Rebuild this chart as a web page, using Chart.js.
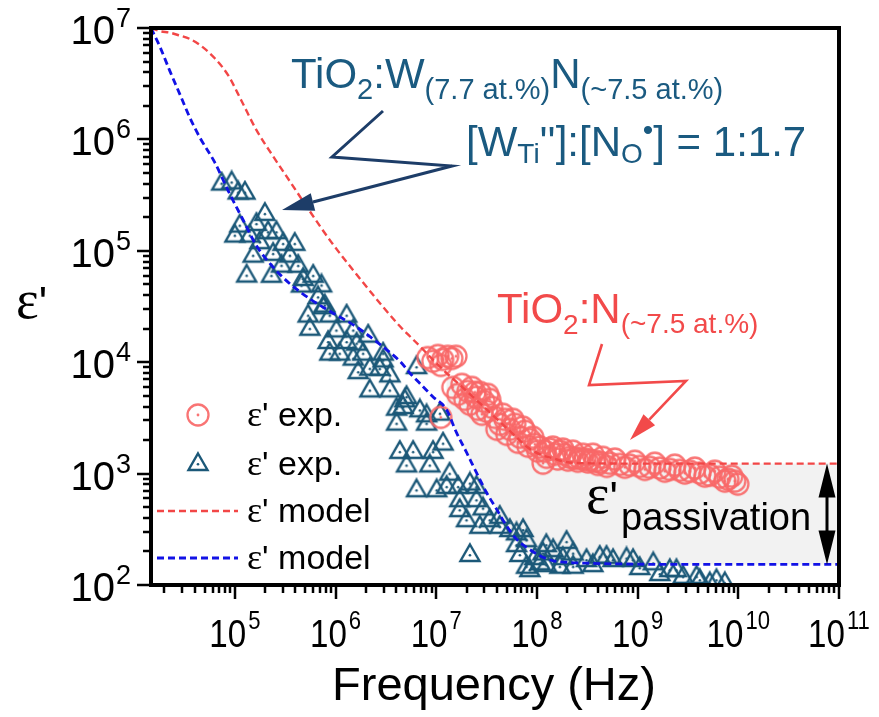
<!DOCTYPE html>
<html><head><meta charset="utf-8">
<script src="https://cdn.jsdelivr.net/npm/chart.js@4.4.1/dist/chart.umd.min.js"></script>
<style>html,body{margin:0;padding:0;background:#fff;}#wrap{width:879px;height:717px;}</style>
</head><body><div id="wrap"><canvas id="c" width="879" height="717"></canvas></div>
<script>
// ---------- data ----------
const xTickExps = [5, 6, 7, 8, 9, 10, 11];
const yTickExps = [2, 3, 4, 5, 6, 7];
const xRange = [1.47e4, 1e11];
const yRange = [1e2, 1e7];

const modelFreq = [1.47e4, 1.80e4, 2.26e4, 2.84e4, 3.57e4, 4.49e4, 6.32e4, 8.57e4, 1.17e5, 1.64e5, 2.40e5, 3.52e5, 5.56e5, 9.12e5, 1.62e6, 2.97e6, 4.36e6, 5.47e6, 7.41e6, 9.31e6, 1.26e7, 1.59e7, 2.0e7, 2.51e7, 3.16e7, 3.97e7, 4.99e7, 6.27e7, 7.89e7, 1.07e8, 1.45e8, 1.97e8, 3.16e8, 8.95e8, 3.16e9, 1e10, 1e11];
const redModel = [1.0e7, 9.37e6, 9.08e6, 8.55e6, 7.98e6, 7.05e6, 5.35e6, 3.77e6, 2.20e6, 1.21e6, 7.05e5, 4.20e5, 2.26e5, 1.19e5, 6.12e4, 3.13e4, 2.10e4, 1.71e4, 1.30e4, 1.05e4, 8.04e3, 6.65e3, 5.51e3, 4.56e3, 3.78e3, 3.11e3, 2.57e3, 2.12e3, 1.75e3, 1.49e3, 1.37e3, 1.27e3, 1.24e3, 1.23e3, 1.23e3, 1.23e3, 1.23e3];
const blueModel = [1.0e7, 6.81e6, 4.12e6, 2.55e6, 1.57e6, 1.04e6, 6.21e5, 3.47e5, 2.0e5, 1.11e5, 7.13e4, 5.06e4, 3.71e4, 2.81e4, 2.07e4, 1.37e4, 1.02e4, 8.0e3, 6.03e3, 4.88e3, 3.78e3, 2.33e3, 1.55e3, 1.02e3, 676, 480, 340, 258, 218, 183, 165, 160, 157, 154, 153, 153, 153];
const fillStartFreq = 1.26e7;

const circleFreq = [8.26e6, 9.25e6, 1.04e7, 1.16e7, 1.30e7, 1.43e7, 1.57e7, 1.11e7, 1.11e7, 1.46e7, 1.64e7, 1.80e7, 1.92e7, 2.06e7, 2.26e7, 2.47e7, 2.71e7, 2.97e7, 3.25e7, 2.16e7, 2.59e7, 3.18e7, 3.56e7, 3.82e7, 4.28e7, 4.80e7, 5.38e7, 6.04e7, 6.77e7, 7.59e7, 8.50e7, 9.53e7, 1.07e8, 1.15e8, 1.20e8, 1.34e8, 1.51e8, 1.69e8, 1.89e8, 2.12e8, 2.38e8, 2.67e8, 2.99e8, 3.35e8, 3.76e8, 4.21e8, 5.30e8, 6.65e8, 8.37e8, 1.05e9, 1.32e9, 1.66e9, 2.09e9, 2.62e9, 3.30e9, 4.15e9, 5.21e9, 6.55e9, 7.87e9, 9.23e9,
  1.25e8, 1.44e8, 1.61e8, 1.81e8, 2.03e8, 2.27e8, 2.55e8, 2.86e8, 3.20e8, 3.59e8, 4.03e8, 4.51e8, 4.94e8, 5.94e8, 7.46e8, 9.38e8, 1.18e9, 1.48e9, 1.86e9, 2.34e9, 2.94e9, 3.70e9, 4.65e9, 5.85e9, 7.35e9, 8.61e9, 9.89e9,
  2.42e7, 2.84e7, 3.40e7, 4.00e7, 4.58e7, 5.02e7, 5.77e7, 6.46e7, 7.24e7, 8.12e7, 9.10e7, 1.02e8];
const circleEps = [1.10e4, 1.02e4, 1.15e4, 1.06e4, 1.13e4, 1.08e4, 1.13e4, 9.36e3, 3.20e3, 5.94e3, 5.14e3, 6.32e3, 4.64e3, 5.47e3, 5.94e3, 4.84e3, 5.36e3, 4.46e3, 5.14e3, 4.19e3, 3.78e3, 3.62e3, 3.94e3, 3.20e3, 2.77e3, 3.07e3, 2.50e3, 2.77e3, 2.12e3, 2.40e3, 2.03e3, 1.83e3, 1.73e3, 1.24e3, 1.59e3, 1.66e3, 1.49e3, 1.59e3, 1.49e3, 1.40e3, 1.37e3, 1.37e3, 1.35e3, 1.32e3, 1.29e3, 1.27e3, 1.24e3, 1.21e3, 1.19e3, 1.16e3, 1.14e3, 1.12e3, 1.09e3, 1.07e3, 1.05e3, 1.01e3, 968, 929, 891, 855,
  1.40e3, 1.73e3, 1.35e3, 1.66e3, 1.32e3, 1.59e3, 1.29e3, 1.49e3, 1.27e3, 1.49e3, 1.21e3, 1.40e3, 1.16e3, 1.35e3, 1.14e3, 1.29e3, 1.09e3, 1.24e3, 1.05e3, 1.19e3, 1.01e3, 1.12e3, 948, 1.05e3, 855, 948, 804,
  5.36e3, 3.41e3, 4.64e3, 2.50e3, 3.41e3, 2.25e3, 3.07e3, 1.91e3, 2.61e3, 1.76e3, 2.12e3, 1.59e3];

const triFreq = [7.4e4, 9.3e4, 1.08e5, 1.26e5, 1.99e5, 1.12e5, 1.0e5, 1.64e5, 2.14e5, 2.59e5, 1.41e5, 1.77e5, 3.02e5, 3.94e5, 1.52e5, 2.40e5, 3.52e5, 2.91e5, 4.26e5, 1.31e5, 2.31e5, 4.77e5, 6.0e5, 4.59e5, 7.26e5, 6.71e5, 7.53e5, 5.35e5, 8.77e5, 1.29e6, 5.56e5, 1.02e6, 1.50e6, 2.11e6, 8.45e5, 1.29e6, 1.62e6, 2.97e6, 8.77e5, 1.10e6, 1.88e6, 7.83e5, 1.50e6, 1.68e6, 2.19e6, 2.75e6, 2.97e6, 3.46e6, 2.19e6, 3.46e6, 5.07e6, 4.69e6, 4.04e6, 6.37e6, 6.87e6, 8.02e6, 4.04e6, 8.02e6, 4.35e6, 5.90e6, 5.07e6, 8.63e6, 9.31e6, 6.37e6, 1.01e7, 4.88e6, 1.09e7, 1.17e7, 1.36e7, 1.27e7, 1.65e7, 2.51e7, 1.71e7, 2.51e7, 1.71e7, 2.0e7, 2.92e7, 3.40e7, 4.28e7, 2.71e7, 4.28e7, 5.38e7, 6.27e7, 6.27e7, 7.89e7, 2.16e7, 7.89e7, 1.07e8, 1.15e8, 1.45e8, 1.97e8, 2.29e8, 1.69e8, 2.29e8, 3.11e8, 4.21e8, 5.71e8, 9.02e8, 1.43e9, 2.09e9, 2.83e9, 4.15e9, 6.07e9, 2.16e7, 7.29e7, 8.50e7, 1.24e8, 1.24e8, 4.91e8, 7.76e8, 2.43e9, 3.85e9, 6.77e7, 9.53e7, 1.81e8, 3.59e8, 1.05e9, 1.66e9, 5.21e9, 7.35e9];
const triEps = [4.1e5, 4.2e5, 3.41e5, 3.4e5, 2.19e5, 1.72e5, 1.40e5, 1.78e5, 1.50e5, 1.50e5, 1.40e5, 1.22e5, 1.18e5, 1.18e5, 9.25e4, 9.6e4, 9.25e4, 7.52e4, 7.5e4, 6.12e4, 6.1e4, 5.71e4, 6.1e4, 4.98e4, 5.0e4, 3.91e4, 3.18e4, 2.68e4, 2.68e4, 2.68e4, 2.04e4, 1.97e4, 1.97e4, 1.77e4, 1.55e4, 1.55e4, 1.50e4, 1.22e4, 1.22e4, 1.22e4, 1.22e4, 3.30e4, 1.10e4, 8.32e3, 8.93e3, 8.9e3, 1.06e4, 7.78e3, 5.70e3, 5.7e3, 4.97e3, 4.04e3, 3.91e3, 9.23e3, 3.78e3, 3.41e3, 2.87e3, 2.87e3, 1.60e3, 1.60e3, 1.21e3, 1.21e3, 1.60e3, 724, 724, 4.64e3, 3.53e3, 1.90e3, 1.02e3, 776, 776, 776, 590, 590, 480, 390, 497, 390, 418, 340, 340, 318, 297, 233, 258, 190, 149, 160, 196, 210, 249, 196, 149, 149, 171, 183, 171, 171, 160, 139, 121, 113, 113, 832, 318, 139, 154, 233, 183, 177, 139, 121, 190, 178, 178, 154, 145, 128, 106, 106];

// ---------- styles ----------
const SANS = "'Liberation Sans', Arial, sans-serif";
const SERIF = "'Liberation Serif', 'Times New Roman', serif";
const TRI_COLOR = '#1b5878';
const CIRC_COLOR = 'rgba(248,104,104,0.92)';
const RED_LINE = '#f24646';
const BLUE_LINE = '#1212e6';
const TEAL_TEXT = '#1a5a80';
const NAVY_ARROW = '#1d3d68';
const RED_TEXT = '#f24a4a';

function makeTri() {
  const c = document.createElement('canvas'); c.width = 26; c.height = 24;
  const g = c.getContext('2d');
  g.strokeStyle = TRI_COLOR; g.lineWidth = 2.4; g.lineJoin = 'miter';
  g.beginPath(); g.moveTo(13, 2.5); g.lineTo(22.5, 19); g.lineTo(3.5, 19); g.closePath(); g.stroke();
  g.fillStyle = TRI_COLOR; g.beginPath(); g.arc(13, 13.2, 1.3, 0, Math.PI * 2); g.fill();
  return c;
}
function makeCirc() {
  const c = document.createElement('canvas'); c.width = 26; c.height = 26;
  const g = c.getContext('2d');
  g.strokeStyle = CIRC_COLOR; g.lineWidth = 2.3;
  g.beginPath(); g.arc(13, 13, 10.5, 0, Math.PI * 2); g.stroke();
  g.fillStyle = CIRC_COLOR; g.beginPath(); g.arc(13, 13, 1.4, 0, Math.PI * 2); g.fill();
  return c;
}
const triImg = makeTri();
const circImg = makeCirc();

const pts = (xs, ys) => xs.map((x, i) => ({ x: x, y: ys[i] }));
const k0 = modelFreq.findIndex(f => f >= fillStartFreq);

function runs(ctx, x, y, parts, color) {
  ctx.fillStyle = color; ctx.textBaseline = 'alphabetic'; ctx.textAlign = 'left';
  for (const p of parts) {
    ctx.font = p.f;
    ctx.fillText(p.t, x, y + (p.dy || 0));
    x += ctx.measureText(p.t).width + (p.dx || 0);
  }
  return x;
}
function arrowHead(ctx, fromX, fromY, tipX, tipY, len, half) {
  const dx = tipX - fromX, dy = tipY - fromY, L = Math.hypot(dx, dy);
  const ux = dx / L, uy = dy / L;
  const bx = tipX - ux * len, by = tipY - uy * len;
  ctx.beginPath();
  ctx.moveTo(tipX, tipY);
  ctx.lineTo(bx - uy * half, by + ux * half);
  ctx.lineTo(bx + uy * half, by - ux * half);
  ctx.closePath(); ctx.fill();
  return [bx, by];
}
function lightning(ctx, P, color, lw, len, half) {
  ctx.strokeStyle = color; ctx.fillStyle = color; ctx.lineWidth = lw; ctx.lineJoin = 'miter';
  const n = P.length;
  const [bx, by] = arrowHead(ctx, P[n - 2][0], P[n - 2][1], P[n - 1][0], P[n - 1][1], len, half);
  ctx.beginPath(); ctx.moveTo(P[0][0], P[0][1]);
  for (let i = 1; i < n - 1; i++) ctx.lineTo(P[i][0], P[i][1]);
  ctx.lineTo(bx, by); ctx.stroke();
}

const deco = {
  id: 'deco',
  afterDatasetsDraw(chart) {
    const { ctx, chartArea: a, scales: { x, y } } = chart;
    ctx.save();
    // double arrow for passivation gap
    const ax = 827;
    const yTop = y.getPixelForValue(redModel[redModel.length - 1]);
    const yBot = y.getPixelForValue(blueModel[blueModel.length - 1]);
    ctx.fillStyle = '#000'; ctx.strokeStyle = '#000'; ctx.lineWidth = 3;
    ctx.beginPath(); ctx.moveTo(ax, yTop + 20); ctx.lineTo(ax, yBot - 20); ctx.stroke();
    ctx.beginPath(); ctx.moveTo(ax, yTop); ctx.lineTo(ax + 8.5, yTop + 34); ctx.lineTo(ax - 8.5, yTop + 34); ctx.closePath(); ctx.fill();
    ctx.beginPath(); ctx.moveTo(ax, yBot); ctx.lineTo(ax + 8.5, yBot - 34); ctx.lineTo(ax - 8.5, yBot - 34); ctx.closePath(); ctx.fill();

    // frame
    ctx.strokeStyle = '#000'; ctx.lineWidth = 4;
    ctx.strokeRect(a.left, a.top, a.right - a.left, a.bottom - a.top);
    // ticks
    ctx.lineWidth = 2.5;
    ctx.beginPath();
    for (let e = 4; e <= 11; e++) for (let k = 1; k <= 9; k++) {
      const v = k * Math.pow(10, e);
      if (v < xRange[0] * 0.999 || v > xRange[1] * 1.001) continue;
      const px = Math.round(x.getPixelForValue(v));
      const L = k === 1 ? 12 : 6;
      ctx.moveTo(px, a.bottom + 1); ctx.lineTo(px, a.bottom + 2 + L);
    }
    for (let e = 2; e <= 7; e++) for (let k = 1; k <= 9; k++) {
      const v = k * Math.pow(10, e);
      if (v < yRange[0] * 0.999 || v > yRange[1] * 1.001) continue;
      const py = Math.round(y.getPixelForValue(v));
      const L = k === 1 ? 12 : 6;
      ctx.moveTo(a.left - 1, py); ctx.lineTo(a.left - 2 - L, py);
    }
    ctx.stroke();
    ctx.restore();
  },
  afterDraw(chart) {
    const { ctx, chartArea: a, scales: { x, y } } = chart;
    ctx.save();
    ctx.fillStyle = '#000'; ctx.textBaseline = 'alphabetic'; ctx.textAlign = 'left';
    // x tick labels (condensed)
    const sx = 0.85;
    for (const e of xTickExps) {
      const cx = x.getPixelForValue(Math.pow(10, e));
      ctx.font = `39px ${SANS}`; const wb = ctx.measureText('10').width * sx;
      ctx.font = `26px ${SANS}`; const we = ctx.measureText(String(e)).width * sx;
      const gap = 2, start = cx - (wb + gap + we) / 2;
      ctx.save(); ctx.translate(start, 647); ctx.scale(sx, 1); ctx.font = `39px ${SANS}`; ctx.fillText('10', 0, 0); ctx.restore();
      ctx.save(); ctx.translate(start + wb + gap, 629); ctx.scale(sx, 1); ctx.font = `26px ${SANS}`; ctx.fillText(String(e), 0, 0); ctx.restore();
    }
    // y tick labels
    for (const e of yTickExps) {
      const cy = y.getPixelForValue(Math.pow(10, e));
      ctx.font = `40px ${SANS}`; const wb = ctx.measureText('10').width;
      ctx.font = `27px ${SANS}`; const we = ctx.measureText(String(e)).width;
      const right = 131, start = right - wb - 1 - we;
      ctx.font = `40px ${SANS}`; ctx.fillText('10', start, cy + 16);
      ctx.font = `27px ${SANS}`; ctx.fillText(String(e), start + wb + 1, cy - 1);
    }
    // axis titles
    ctx.font = `47px ${SANS}`; ctx.textAlign = 'center';
    ctx.fillText('Frequency (Hz)', 494, 700);
    ctx.textAlign = 'left';
    runs(ctx, 16, 318, [{ t: 'ε', f: `54px ${SERIF}` }, { t: "'", f: `44px ${SANS}` }], '#000');

    // legend
    const lg = [
      { type: 'circ', yc: 415, base: 426 },
      { type: 'tri', yc: 463, base: 475 },
      { type: 'line', color: RED_LINE, lw: 2.4, yc: 511, base: 522, label: 'model' },
      { type: 'line', color: BLUE_LINE, lw: 2.8, yc: 558, base: 569, label: 'model' }
    ];
    for (const it of lg) {
      if (it.type === 'circ') ctx.drawImage(circImg, 198 - 13, it.yc - 13);
      else if (it.type === 'tri') ctx.drawImage(triImg, 198 - 13, it.yc - 12);
      else {
        ctx.save(); ctx.strokeStyle = it.color; ctx.lineWidth = it.lw; ctx.setLineDash([7, 4]);
        ctx.beginPath(); ctx.moveTo(157, it.yc); ctx.lineTo(238, it.yc); ctx.stroke(); ctx.restore();
      }
      runs(ctx, 247, it.base, [{ t: 'ε', f: `36px ${SERIF}` }, { t: "' " + (it.label || 'exp.'), f: `34px ${SANS}` }], '#000');
    }

    // annotation: TiO2:W N
    const M = `42px ${SANS}`, S = `28px ${SANS}`, S2 = `29px ${SANS}`;
    runs(ctx, 291, 88, [
      { t: 'TiO', f: M }, { t: '2', f: S2, dy: 11 }, { t: ':W', f: M },
      { t: '(7.7 at.%)', f: S2, dy: 11 }, { t: 'N', f: M }, { t: '(~7.5 at.%)', f: S2, dy: 11 }
    ], TEAL_TEXT);
    runs(ctx, 466, 156, [
      { t: '[W', f: M }, { t: 'Ti', f: S, dy: 7 }, { t: "''", f: M }, { t: ']:[N', f: M },
      { t: 'O', f: S, dy: 7 }, { t: '•', f: `30px ${SANS}`, dy: -16 }, { t: '] = 1:1.7', f: M }
    ], TEAL_TEXT);
    lightning(ctx, [[383, 111], [332, 157], [452, 166], [282, 210]], NAVY_ARROW, 3, 32, 9);

    // annotation: TiO2:N
    runs(ctx, 497, 323, [
      { t: 'TiO', f: M }, { t: '2', f: S, dy: 11 }, { t: ':N', f: M }, { t: '(~7.5 at.%)', f: S, dy: 10 }
    ], RED_TEXT);
    lightning(ctx, [[602, 344], [589, 385], [686, 381], [630, 440]], RED_TEXT, 2.6, 28, 8);

    // epsilon passivation
    runs(ctx, 586, 513, [{ t: 'ε', f: `56px ${SERIF}` }, { t: "'", f: `44px ${SANS}` }], '#000');
    ctx.fillStyle = '#000'; ctx.font = `38px ${SANS}`; ctx.fillText('passivation', 621, 530);
    ctx.restore();
  }
};

new Chart(document.getElementById('c'), {
  type: 'line',
  data: {
    datasets: [
      { label: 'fillTop', data: pts(modelFreq.slice(k0), redModel.slice(k0)), fill: '+1', backgroundColor: '#f2f2f2', borderColor: 'rgba(0,0,0,0)', borderWidth: 1, pointRadius: 0, cubicInterpolationMode: 'monotone', order: 10 },
      { label: 'fillBottom', data: pts(modelFreq.slice(k0), blueModel.slice(k0)), fill: false, borderColor: 'rgba(0,0,0,0)', borderWidth: 1, pointRadius: 0, cubicInterpolationMode: 'monotone', order: 11 },
      { label: "ε' exp. (W,N)", data: pts(triFreq, triEps), showLine: false, pointStyle: triImg, pointRadius: 10, order: 5 },
      { label: "ε' exp. (N)", data: pts(circleFreq, circleEps), showLine: false, pointStyle: circImg, pointRadius: 10, order: 4 },
      { label: "ε' model (N)", data: pts(modelFreq, redModel), borderColor: RED_LINE, borderWidth: 2.4, borderDash: [7, 4], pointRadius: 0, fill: false, cubicInterpolationMode: 'monotone', order: 1 },
      { label: "ε' model (W,N)", data: pts(modelFreq, blueModel), borderColor: BLUE_LINE, borderWidth: 2.8, borderDash: [7, 4], pointRadius: 0, fill: false, cubicInterpolationMode: 'monotone', order: 2 }
    ]
  },
  options: {
    responsive: false, animation: false, devicePixelRatio: 1, events: [],
    layout: { padding: { top: 28, right: 40, left: 0, bottom: 0 } },
    plugins: { legend: { display: false }, title: { display: false }, tooltip: { enabled: false } },
    scales: {
      x: { type: 'logarithmic', min: xRange[0], max: xRange[1], grid: { display: false }, border: { display: false }, ticks: { display: false }, afterFit(s) { s.height = 132; } },
      y: { type: 'logarithmic', min: yRange[0], max: yRange[1], grid: { display: false }, border: { display: false }, ticks: { display: false }, afterFit(s) { s.width = 151; } }
    }
  },
  plugins: [deco]
});
</script>
</body></html>
